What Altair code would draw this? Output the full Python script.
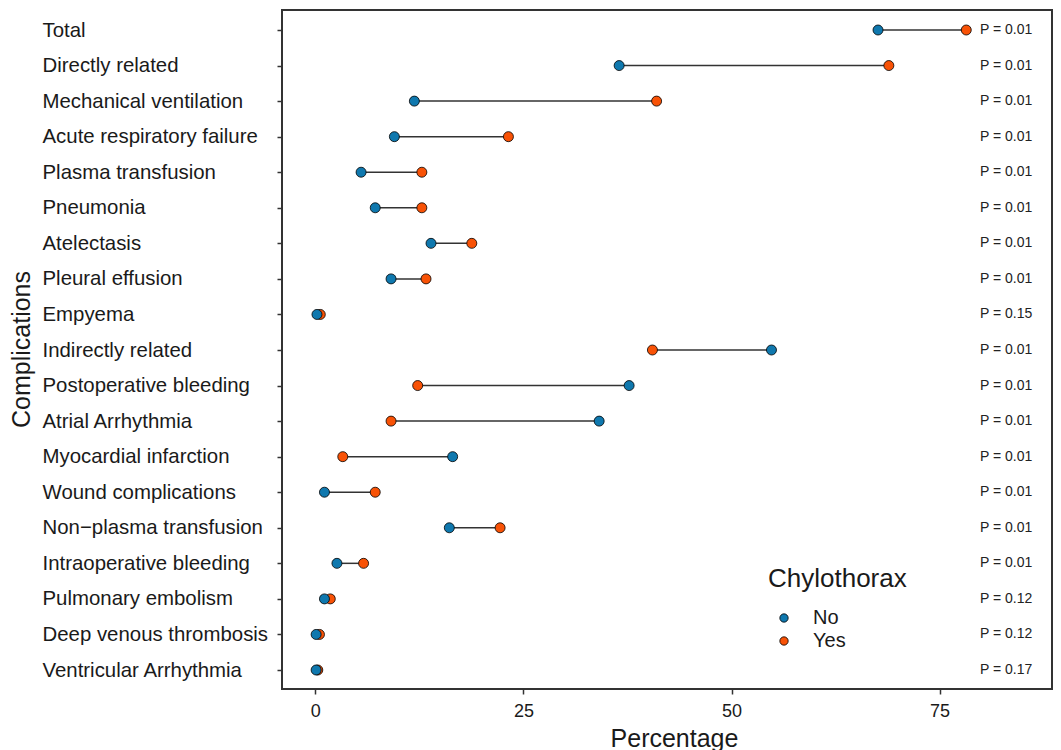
import altair as alt
import pandas as pd

categories = [
    "Total", "Directly related", "Mechanical ventilation", "Acute respiratory failure",
    "Plasma transfusion", "Pneumonia", "Atelectasis", "Pleural effusion", "Empyema",
    "Indirectly related", "Postoperative bleeding", "Atrial Arrhythmia",
    "Myocardial infarction", "Wound complications", "Non\u2212plasma transfusion",
    "Intraoperative bleeding", "Pulmonary embolism", "Deep venous thrombosis",
    "Ventricular Arrhythmia",
]
no_vals = [67.6, 36.5, 11.9, 9.5, 5.5, 7.2, 13.9, 9.1, 0.2, 54.8, 37.7, 34.1, 16.5, 1.1, 16.1, 2.6, 1.1, 0.1, 0.1]
yes_vals = [78.2, 68.9, 41.0, 23.2, 12.8, 12.8, 18.8, 13.3, 0.6, 40.5, 12.3, 9.1, 3.3, 7.2, 22.2, 5.8, 1.8, 0.5, 0.3]
p_labels = [
    "P = 0.01", "P = 0.01", "P = 0.01", "P = 0.01", "P = 0.01", "P = 0.01", "P = 0.01",
    "P = 0.01", "P = 0.15", "P = 0.01", "P = 0.01", "P = 0.01", "P = 0.01", "P = 0.01",
    "P = 0.01", "P = 0.01", "P = 0.12", "P = 0.12", "P = 0.17",
]
group_names = ["No", "Yes"]
group_colors = ["#0F78AE", "#F85206"]
x_ticks = [0, 25, 50, 75]

FONT = "Liberation Sans"
TXT = "#1a1a1a"

wide = pd.DataFrame({"Complication": categories, "No": no_vals, "Yes": yes_vals, "P": p_labels})
long = wide.melt(id_vars=["Complication"], value_vars=["Yes", "No"],
                 var_name="Chylothorax", value_name="Percentage")

xscale = alt.Scale(domain=[-4.0, 88.5], nice=False, zero=False)
x_axis = alt.Axis(
    title="Percentage", values=x_ticks, grid=False, domain=False,
    tickSize=5, tickWidth=1.5, tickColor="#333333",
    labelFontSize=18, labelColor=TXT, labelPadding=8, labelFont=FONT,
    titleFontSize=25, titleFontWeight="normal", titleColor=TXT, titleFont=FONT,
    titleX=392, titleY=37, titleBaseline="top", titleAlign="center",
)
yscale = alt.Scale(type="point", range=[20, 660], padding=0)
y_axis = alt.Axis(
    title="Complications", grid=False, domain=False,
    tickSize=5, tickWidth=1.5, tickColor="#333333",
    labelAlign="left", labelBaseline="middle", labelPadding=235,
    labelFontSize=20.4, labelColor=TXT, labelFont=FONT, labelLimit=400,
    titleFontSize=25, titleFontWeight="normal", titleColor=TXT, titleFont=FONT,
    titleAngle=270, titleX=-261, titleY=339, titleAlign="center", titleBaseline="middle",
)
y_enc = alt.Y("Complication:N", sort=categories, scale=yscale, axis=y_axis)

rules = alt.Chart(wide).mark_rule(color="#333333", strokeWidth=1.5).encode(
    x=alt.X("No:Q", scale=xscale, axis=x_axis),
    x2="Yes:Q",
    y=y_enc,
)

points = alt.Chart(long).mark_circle(size=100, opacity=1, stroke="black", strokeWidth=0.8).encode(
    x=alt.X("Percentage:Q", scale=xscale, axis=x_axis),
    y=y_enc,
    color=alt.Color(
        "Chylothorax:N",
        scale=alt.Scale(domain=group_names, range=group_colors),
        legend=alt.Legend(
            orient="none", legendX=486, legendY=556, padding=0,
            title="Chylothorax", titleFontSize=26, titleFontWeight="normal",
            titleColor=TXT, titleFont=FONT, titlePadding=16,
            labelFontSize=20, labelColor=TXT, labelFont=FONT,
            symbolType="circle", symbolSize=70, symbolStrokeColor="black",
            symbolStrokeWidth=0.8, symbolOpacity=1, symbolOffset=6,
            labelOffset=19, rowPadding=3,
        ),
    ),
)

ptext = alt.Chart(wide).mark_text(
    align="left", baseline="middle", fontSize=14, color="#222222", font=FONT
).encode(
    x=alt.value(698),
    y=y_enc,
    text="P:N",
)

chart = alt.layer(rules, points, ptext).properties(
    width=770, height=679,
    autosize=alt.AutoSizeParams(type="none"),
    padding={"left": 274, "top": 2, "right": 1, "bottom": 61},
    background="white",
).configure(
    font=FONT,
    view=alt.ViewConfig(stroke="#333333", strokeWidth=2),
)

chart.save("out.html", embed_options={"renderer": "svg", "actions": False})
